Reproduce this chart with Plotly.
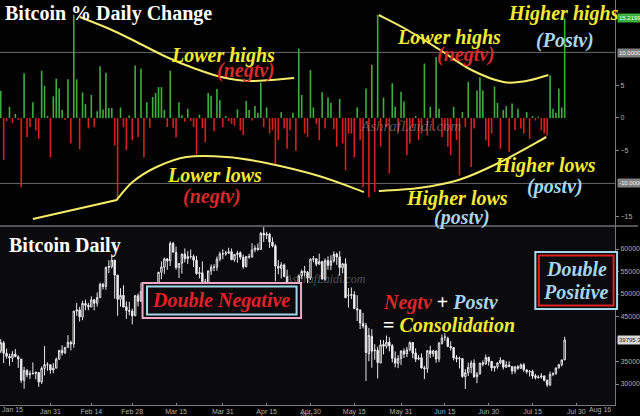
import plotly.graph_objects as go
import pandas as pd

W, H = 640, 416

# ---------------- data ----------------
start_date = "2021-01-14"
end_date = "2021-07-26"
dates = pd.date_range(start_date, end_date, freq="D")

# % daily change (top panel), Jan 14 .. Jul 26
pct_change = [
    4.1, -6.4, -0.5, 1.7, -0.8, 0.6, -0.3, -10.6, 6.8, -2.9,
    -1.4, 2.4, -1.9, -3.2, 7.2, 4.9, 0.3, -6.0, 3.3, 6.0,
    4.5, 1.2, -0.3, 5.9, -3.9, 15.7, 5.9, -4.8, 3.9, 2.1,
    -1.6, 3.5, -1.4, 1.0, 7.9, 1.3, 6.9, 1.5, 1.5, -4.2,
    -12.1, 1.6, -1.4, -4.9, 0.4, -3.4, 8.0, -2.9, 7.5, -6.0,
    2.4, -1.5, 3.2, 3.8, 4.7, 4.7, 1.2, -1.4, 7.2, -1.5,
    -3.0, 2.4, 0.4, -0.6, 1.4, -0.5, -1.4, -5.6, 0.5, -1.6,
    -3.7, 3.8, 3.4, -2.0, 4.4, 2.7, -1.4, 0.3, -0.5, -0.9,
    -1.2, 1.3, -1.9, -2.6, 2.6, 1.2, -0.4, 1.8, 0.8, 5.4,
    -1.4, 1.6, -2.4, -1.9, -7.0, -3.4, 0.9, -1.6, -4.7, -1.9,
    0.8, -5.0, 10.6, 3.5, -2.4, -2.9, 7.3, 1.6, -0.9,
    -3.4, 3.9, -1.6, 3.1, 2.3, -1.7, -4.4, 2.9, -3.9, -8.0,
    -2.4, -2.4, -6.0, 1.6, -3.4, -10.6, 4.5, -12.1, 8.1, -11.3,
    15.7, -4.4, 3.1, -1.4, -8.5, 5.3, 1.7, -2.1, 4.0, 2.5,
    -5.7, -3.9, -1.6, 0.3, -3.4, -2.4, 8.3, -2.7, 1.7, -1.9,
    9.3, 1.4, -2.9, -1.9, -4.4, -5.7, 1.7, -3.4, -8.8, 0.9,
    -1.4, 5.5, -7.5, -1.6, 4.2, 6.2, 4.2, -3.4, -4.4, -2.4,
    4.8, 2.3, -4.7, 1.2, 1.8, -5.2, 2.2, -1.9, 1.4, -1.6,
    -2.4, 0.9, -3.2, 0.3, -0.4, 0.2, -1.9, -2.4, -2.7, 6.5,
    1.4, 0.8, 4.5, 1.6, 15.22,
]

open_ = [
    37325, 39156, 36821, 36163, 35792, 36642, 36050, 35549, 30817, 32985, 32064, 32285, 32358, 32564, 30441, 33470, 34295, 34270,
    33115, 33533, 35510, 37475, 36931, 38138, 39250, 38886, 46184, 46469, 44898, 47877, 47491, 47114, 48696, 47944, 49207, 52141, 51675, 55887, 56068, 57532, 54204, 48835, 49709, 47180, 46344, 46194,
    45160, 49613, 48415, 50522, 48527, 48899, 48918, 51174, 52272, 54824, 55963, 57821, 57343, 61221, 59267, 55840, 56826, 58893, 57851, 58332, 58309, 57517, 54511, 54710, 52726, 51683, 55137, 55974, 55948, 57750, 58930,
    58926, 59098, 59397, 57604, 58760, 59171, 58186, 56099, 58326, 58253, 59847, 60175, 59890, 63523, 63075, 63258, 61529, 60701, 56191, 55681, 56471, 53857, 51739, 51143, 50052, 49077, 54030, 55036, 54858, 53568,
    57714, 57825, 56620, 57214, 53252, 57441, 56413, 57352, 58877, 58250, 55847, 56714, 49735, 49682, 49855, 46716, 46416, 43488, 42944, 36753, 40596, 37371, 37531, 34700, 38795, 38392, 39316, 38507, 35684, 34607, 35658,
    37293, 36699, 37599, 39242, 36880, 35538, 35835, 33589, 33417, 37389, 36697, 37341, 35555, 39016, 40427, 40168, 38341, 38099, 35854, 35563, 35641, 31622, 32515, 33682, 34659, 31594, 32287, 34680, 34475, 35908,
    35036, 33549, 33855, 34666, 35284, 33723, 34225, 33889, 32861, 33812, 33510, 34260, 33125, 32723, 32827, 31841, 31397, 31534, 31800, 30838, 29796, 32138, 32305, 33593, 34290, 35384,
]
high = [
    39966, 39577, 37864, 36722, 37299, 37755, 36378, 35552, 33811, 33360, 32944, 34802, 32794, 32564, 33858, 38406, 34834, 34288,
    34638, 35896, 37480, 38592, 38225, 40846, 39621, 46203, 48003, 47145, 48463, 48745, 48047, 49487, 48876, 50341, 52533, 52474, 56113, 57505, 58331, 57533, 54204, 51290, 51948, 48371, 48253, 46716,
    49784, 50127, 52536, 51735, 49396, 49147, 51384, 52314, 54904, 57258, 58092, 57996, 61683, 61597, 60541, 56833, 58969, 60116, 59498, 59888, 58767, 58471, 55985, 57262, 53392, 55137, 56568, 56610, 58342, 59369, 59930,
    59586, 60267, 60110, 58913, 59592, 59479, 58731, 58338, 58937, 61276, 60790, 61253, 63742, 64863, 63822, 63594, 62572, 61057, 57521, 57062, 56757, 55411, 52121, 51167, 50506, 54288, 55416, 56227, 55115, 57900,
    58448, 57902, 58973, 57214, 57911, 58363, 58606, 59464, 59210, 59519, 56872, 57939, 51330, 51438, 50639, 49720, 46623, 45812, 43546, 42462, 42172, 38831, 38289, 39835, 39776, 40782, 40379, 38856, 37234, 36400, 37468,
    37896, 38231, 39478, 39242, 37917, 36436, 36790, 34018, 37537, 38492, 37608, 37437, 39322, 40978, 41295, 40516, 39513, 38187, 36434, 36107, 35750, 33292, 34753, 35228, 35487, 32637, 34656, 35219, 36542, 36074,
    35036, 33939, 34910, 35937, 35284, 35038, 35059, 33907, 34042, 34191, 34590, 34651, 33340, 33061, 33159, 32249, 31935, 32399, 31885, 31006, 32752, 32576, 33581, 34465, 35364, 40499,
]
low = [
    36868, 34659, 35633, 34069, 34883, 36070, 33570, 30250, 28953, 31493, 31106, 32087, 31030, 29367, 30023, 31915, 32940, 32270,
    32384, 33489, 35443, 36317, 36658, 38138, 37446, 38076, 45166, 43881, 44187, 46424, 46392, 47114, 46347, 47201, 49072, 51015, 50937, 54626, 55672, 48967, 45164, 47213, 47093, 44454, 45269, 43241,
    45115, 47228, 48275, 47656, 46542, 47257, 48918, 49506, 51857, 53290, 54484, 55376, 56217, 59302, 55393, 53555, 54528, 57023, 56643, 57830, 56005, 54288, 53470, 52514, 50856, 51579, 54242, 55071, 55140, 57248, 57727,
    58505, 58870, 57603, 57168, 56957, 57646, 55604, 55879, 57807, 58038, 59289, 59589, 59869, 61554, 62208, 60222, 60361, 52829, 54368, 53448, 53695, 50583, 47714, 48806, 47159, 48852, 53319, 53887, 52418, 53129,
    57052, 56141, 56590, 53191, 52970, 55382, 55321, 56975, 56482, 54071, 54608, 49150, 46980, 48868, 46664, 43963, 42207, 42367, 30681, 35050, 33616, 35383, 31227, 34551, 36581, 37868, 37248, 34779, 33693, 33520, 34241,
    35787, 35966, 37243, 35717, 34900, 35304, 33480, 31114, 32475, 35782, 36044, 34707, 34864, 38757, 39609, 38176, 37439, 35255, 34833, 33466, 31379, 28894, 31772, 32385, 31350, 30185, 32071, 33902, 34252, 34086,
    32883, 32770, 33402, 34396, 33213, 33599, 33861, 32133, 32318, 33153, 33333, 32697, 32248, 31639, 31175, 31021, 31223, 31175, 30563, 29360, 29526, 31745, 32057, 33402, 33881, 35287,
]
close = [
    39187, 36825, 36178, 35792, 36630, 36070, 35547, 30825, 33005, 32067, 32289, 32366, 32569, 30432, 33466, 34316, 34269, 33114,
    33538, 35510, 37472, 36926, 38144, 39266, 38903, 46196, 46481, 44919, 47910, 47504, 47105, 48717, 47945, 49199, 52149, 51679, 55888, 56099, 57539, 54207, 48824, 49705, 47093, 46339, 46188, 45137,
    49632, 48378, 50538, 48561, 48927, 48912, 51206, 52246, 54824, 56008, 57805, 57332, 61243, 59302, 55907, 56804, 58870, 57858, 58346, 58313, 57524, 54529, 54738, 52775, 51705, 55137, 55974, 55948, 57750, 58918, 58918,
    59095, 59384, 57604, 58758, 59057, 58192, 56048, 58323, 58245, 59793, 60204, 59893, 63503, 63110, 63314, 61572, 60683, 56216, 55724, 56473, 53906, 51762, 51093, 50050, 49004, 54021, 55033, 54824, 53555, 57750,
    57828, 56631, 57200, 53333, 57424, 56396, 57356, 58803, 58232, 55859, 56704, 49150, 49716, 49880, 46760, 46456, 43537, 42909, 37002, 40782, 37304, 37536, 34770, 38705, 38402, 39294, 38436, 35697, 34616, 35678, 37332,
    36684, 37575, 39187, 36825, 35520, 35797, 33552, 33380, 37389, 36702, 37334, 35552, 39097, 40218, 40406, 38347, 38053, 35787, 35615, 35698, 31676, 32505, 33723, 34662, 31637, 32186, 34649, 34434, 35867, 35041,
    33572, 33897, 34668, 35287, 33746, 34235, 33855, 32877, 33798, 33520, 34240, 33155, 32702, 32822, 31780, 31421, 31533, 31797, 30817, 29807, 32110, 32313, 33581, 34292, 35350, 39795.32,
]

x_tick_dates = ["2021-01-31", "2021-02-14", "2021-02-28", "2021-03-15", "2021-03-31",
                "2021-04-15", "2021-04-30", "2021-05-15", "2021-05-31", "2021-06-15",
                "2021-06-30", "2021-07-15", "2021-07-30"]
x_tick_text = ["Jan 31", "Feb 14", "Feb 28", "Mar 15", "Mar 31", "Apr 15", "Apr 30",
               "May 15", "May 31", "Jun 15", "Jun 30", "Jul 15", "Jul 30"]
pct_ticks = [-15, -5, 0, 5]
price_ticks = [30000, 35000, 45000, 50000, 55000, 60000]
last_pct_label = "15.2199"
last_price_label = "39795.32"

# ---------------- helpers ----------------
def px(x):
    return x / W

def py(y):
    return 1 - y / H

def smooth_path(pts, start_line=None):
    P = [(px(x), py(y)) for x, y in pts]
    if start_line:
        d = "M{:.5f},{:.5f} L{:.5f},{:.5f}".format(px(start_line[0]), py(start_line[1]), P[0][0], P[0][1])
    else:
        d = "M{:.5f},{:.5f}".format(*P[0])
    for i in range(len(P) - 1):
        p0 = P[i - 1] if i > 0 else P[i]
        p1, p2 = P[i], P[i + 1]
        p3 = P[i + 2] if i + 2 < len(P) else P[i + 1]
        c1 = (p1[0] + (p2[0] - p0[0]) / 6, p1[1] + (p2[1] - p0[1]) / 6)
        c2 = (p2[0] - (p3[0] - p1[0]) / 6, p2[1] - (p3[1] - p1[1]) / 6)
        d += " C{:.5f},{:.5f} {:.5f},{:.5f} {:.5f},{:.5f}".format(c1[0], c1[1], c2[0], c2[1], p2[0], p2[1])
    return d

SERIF = "Liberation Serif"
YEL = "#f3ea35"
RED = "#d8282b"
BLUE = "#a6d5ec"
CURVE = "#f4eb6a"

annotations = []
def ann(text, x, y, size=20, color="white", xanchor="center", yanchor="middle", family=SERIF, **kw):
    d = dict(text=text, x=px(x), y=py(y), xref="paper", yref="paper", showarrow=False,
             xanchor=xanchor, yanchor=yanchor, font=dict(family=family, size=size, color=color))
    d.update(kw)
    annotations.append(d)

# ---------------- figure ----------------
fig = go.Figure()

bar_colors = ["#3fae3f" if v >= 0 else "#d81f1f" for v in pct_change]
fig.add_trace(go.Bar(x=dates, y=pct_change, marker=dict(color=bar_colors, line_width=0),
                     xaxis="x", yaxis="y2", hoverinfo="skip"))

fig.add_trace(go.Candlestick(x=dates, open=open_, high=high, low=low, close=close,
                             xaxis="x", yaxis="y",
                             increasing=dict(line=dict(color="#e8e8e8", width=1), fillcolor="#0a0a0a"),
                             decreasing=dict(line=dict(color="#e8e8e8", width=1), fillcolor="#f4f4f4"),
                             whiskerwidth=0, hoverinfo="skip"))

x_dom_end = 617 / W
bottom_dom = [1 - 405 / H, 1 - 226 / H]
top_dom = [1 - 226 / H, 1.0]

shapes = []
# darker top panel background
shapes.append(dict(type="rect", xref="paper", yref="paper", x0=0, x1=x_dom_end, y0=py(226), y1=1,
                   fillcolor="#010101", line=dict(width=0), layer="below"))
for lvl in (10, -10):
    shapes.append(dict(type="line", xref="paper", yref="y2", x0=0, x1=x_dom_end, y0=lvl, y1=lvl,
                       line=dict(color="#6a6a6a", width=1), layer="below"))
shapes.append(dict(type="line", xref="paper", yref="paper", x0=0, x1=1, y0=py(226), y1=py(226),
                   line=dict(color="#707070", width=1.5)))

curve_style = dict(type="path", xref="paper", yref="paper", line=dict(color=CURVE, width=2), layer="above")
shapes.append(dict(path=smooth_path([(80, 17), (110, 29), (135, 41), (167, 57), (194, 68), (222, 77),
                                     (252, 81), (295, 78)]), **curve_style))
shapes.append(dict(path=smooth_path([(117, 200), (133, 182), (157, 167), (187, 157), (227, 157),
                                     (267, 163), (320, 176), (365, 192)], start_line=(33, 219)), **curve_style))
shapes.append(dict(path=smooth_path([(380, 191), (420, 188), (460, 180), (500, 163), (548, 137)]), **curve_style))
shapes.append(dict(path=smooth_path([(380, 15), (407, 29), (440, 49), (473, 70), (505, 82), (528, 81),
                                     (550, 75)]), **curve_style))

shapes.append(dict(type="rect", xref="paper", yref="paper", x0=px(143), x1=px(302), y0=py(318), y1=py(283),
                   line=dict(color="#f0a8c8", width=2), fillcolor="#0b0b0e", layer="above"))
shapes.append(dict(type="rect", xref="paper", yref="paper", x0=px(147.5), x1=px(297.5), y0=py(314.5), y1=py(286.5),
                   line=dict(color="#9fd8e6", width=2), fillcolor="#0b0b0e", layer="above"))
shapes.append(dict(type="rect", xref="paper", yref="paper", x0=px(537), x1=px(619), y0=py(309), y1=py(252),
                   line=dict(color="#a6d8ea", width=2), fillcolor="#0b0b0e", layer="above"))
shapes.append(dict(type="rect", xref="paper", yref="paper", x0=px(540.5), x1=px(615.5), y0=py(305.5), y1=py(255.5),
                   line=dict(color="#e02020", width=2), fillcolor="#0b0b0e", layer="above"))

# ---------------- texts ----------------
ann("<b>Bitcoin % Daily Change</b>", 3, 14, size=20, xanchor="left")
ann("<b>Bitcoin Daily</b>", 7, 245, size=20, xanchor="left")

ann("<i>AshrafLaidi.com</i>", 412, 126, size=15, color="rgba(190,190,190,0.45)")
ann("<i>AshrafLaidi.com</i>", 326, 279, size=12, color="rgba(190,190,190,0.40)")

ann("<b><i>Lower highs</i></b>", 224, 56, color=YEL)
ann("<b><i>(negtv)</i></b>", 247, 71, color=RED)
ann("<b><i>Lower lows</i></b>", 215, 175, color=YEL)
ann("<b><i>(negtv)</i></b>", 213, 196, color=RED)
ann("<b><i>Lower highs</i></b>", 450, 37, color=YEL)
ann("<b><i>(negtv)</i></b>", 467, 55, color=RED)
ann("<b><i>Higher highs</i></b>", 565, 13, color=YEL)
ann("<b><i>(Postv)</i></b>", 567, 40, color=BLUE)
ann("<b><i>Higher lows</i></b>", 547, 165, color=YEL)
ann("<b><i>(postv)</i></b>", 557, 186, color=BLUE)
ann("<b><i>Higher lows</i></b>", 458, 198, color=YEL)
ann("<b><i>(postv)</i></b>", 463, 217, color=BLUE)

ann("<b><i>Double Negative</i></b>", 222, 300, color="#e0202a")
ann("<b><i>Double</i></b>", 578, 269, color=BLUE)
ann("<b><i>Positive</i></b>", 578, 292, color=BLUE)

ann('<b><i><span style="color:%s">Negtv</span></i> <span style="color:white">+</span> '
    '<i><span style="color:%s">Postv</span></i></b>' % (RED, BLUE), 382, 302, xanchor="left")
ann('<b><span style="color:white">=</span> <i><span style="color:%s">Consolidation</span></i></b>' % YEL,
    382, 325, xanchor="left")

small = "Arial"
ann(last_pct_label, 619, 18, size=6, color="#eaffea", xanchor="left", family=small, bgcolor="#3cae3c", borderpad=1)
ann("10.0000", 619, 53, size=6, color="#f0f0f0", xanchor="left", family=small, bgcolor="#808080", borderpad=1)
ann("-10.0000", 619, 183, size=6, color="#f0f0f0", xanchor="left", family=small, bgcolor="#808080", borderpad=1)
ann(last_price_label, 619, 340, size=6, color="#222222", xanchor="left", family=small, bgcolor="#d8d8d8", borderpad=1)

ann("Jan 15", 13, 409.5, size=7, color="#b0b0b0", family=small)
ann("Aug 16", 602, 409.5, size=7, color="#b0b0b0", family=small)
ann("2021", 308, 414.5, size=6, color="#b0b0b0", family=small)

axis_font = dict(family="Arial", size=7, color="#b0b0b0")

fig.update_layout(
    width=W, height=H,
    margin=dict(l=0, r=0, t=0, b=0),
    paper_bgcolor="#000000",
    plot_bgcolor="#0b0b0e",
    showlegend=False,
    bargap=0.45,
    xaxis=dict(domain=[0, x_dom_end], anchor="y", type="date",
               range=["2021-01-13 18:00", "2021-08-12 06:00"],
               tickvals=x_tick_dates, ticktext=x_tick_text, tickfont=axis_font,
               ticks="inside", ticklen=2, tickcolor="#888", ticklabelstandoff=0,
               showgrid=False, zeroline=False,
               showline=True, linecolor="#777", linewidth=1, rangeslider=dict(visible=False)),
    yaxis=dict(domain=bottom_dom, anchor="x", side="right", range=[25333, 65111],
               tickvals=price_ticks, tickformat="d", tickfont=axis_font, ticks="outside", ticklen=3,
               tickcolor="#888", showgrid=False, zeroline=False, showline=True, linecolor="#777", linewidth=1),
    yaxis2=dict(domain=top_dom, anchor="x", side="right", range=[-16.5, 18.0],
                tickvals=pct_ticks, tickfont=axis_font, ticks="outside", ticklen=3, tickcolor="#888",
                showgrid=False, zeroline=False, showline=True, linecolor="#777", linewidth=1),
    shapes=shapes,
    annotations=annotations,
)

fig.write_html("out.html", config={"displayModeBar": False, "staticPlot": True},
               post_script="document.body.style.margin='0';document.body.style.padding='0';")
